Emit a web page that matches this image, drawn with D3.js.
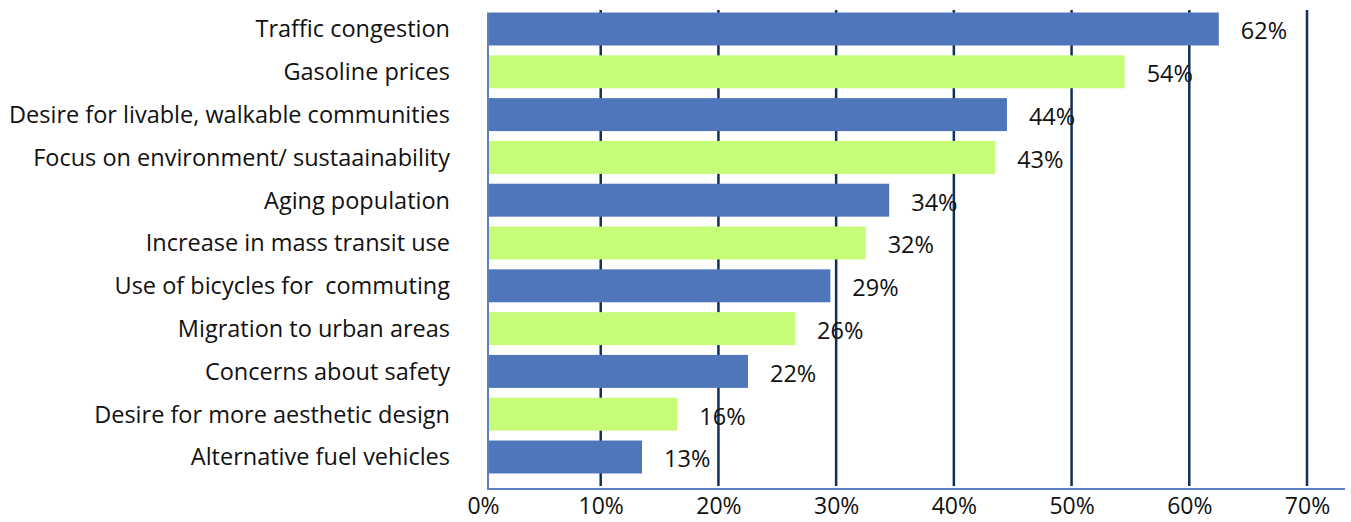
<!DOCTYPE html>
<html><head><meta charset="utf-8">
<script src="https://cdn.jsdelivr.net/npm/d3@7"></script>
<style>body{margin:0;background:#fff}svg{display:block}text{font-family:"Open Sans",sans-serif;fill:#111;white-space:pre}</style>
</head><body><svg id="c" width="1351" height="522"></svg>
<script>
const categories = ["Traffic congestion","Gasoline prices","Desire for livable, walkable communities","Focus on environment/ sustaainability","Aging population","Increase in mass transit use","Use of bicycles for  commuting","Migration to urban areas","Concerns about safety","Desire for more aesthetic design","Alternative fuel vehicles"];
const values = [62,54,44,43,34,32,29,26,22,16,13];
const barColors = ["#4f76bb","#c6fc78"];
const tickValues = [0,10,20,30,40,50,60,70];

const svg = d3.select("#c");
const x = d3.scaleLinear().domain([0,70]).range([483,1307]);
const y = d3.scaleBand().domain(categories).range([7.6,478.4]).paddingInner(0.23).paddingOuter(0.115);

// gridlines
svg.append("g").selectAll("line").data(tickValues.slice(1)).join("line")
  .attr("x1",d=>x(d)).attr("x2",d=>x(d)).attr("y1",10).attr("y2",486)
  .attr("stroke","#0f2f5c").attr("stroke-width",2.5);

// bars
svg.append("g").selectAll("rect").data(values).join("rect")
  .attr("x",x(0)+4).attr("y",(d,i)=>y(categories[i]))
  .attr("width",d=>x(d)-x(0)+2).attr("height",y.bandwidth())
  .attr("fill",(d,i)=>barColors[i%2]);

// axis lines
svg.append("line").attr("x1",488).attr("x2",488).attr("y1",13).attr("y2",489.5).attr("stroke","#5b80c4").attr("stroke-width",2);
svg.append("line").attr("x1",487).attr("x2",1345).attr("y1",489).attr("y2",489).attr("stroke","#5b80c4").attr("stroke-width",2);

// category labels
svg.append("g").selectAll("text").data(categories).join("text")
  .attr("x",450).attr("y",d=>y(d)+y.bandwidth()/2).attr("dy","0.36em")
  .attr("text-anchor","end").style("font-size","23.5px").text(d=>d);

// value labels
svg.append("g").selectAll("text").data(values).join("text")
  .attr("x",d=>x(d)+6+22).attr("y",(d,i)=>y(categories[i])+y.bandwidth()/2+2).attr("dy","0.36em")
  .style("font-size","23.5px").text(d=>d+"%");

// x axis tick labels
const ax = d3.axisBottom(x).tickValues(tickValues).tickFormat(d=>d+"%").tickSize(0).tickPadding(0);
const g = svg.append("g").attr("transform","translate(0,498)").call(ax);
g.select(".domain").remove();
g.selectAll("text").attr("dy","0.71em").style("font-size","23px").style("font-family","'Open Sans',sans-serif").attr("fill","#111");
</script></body></html>
